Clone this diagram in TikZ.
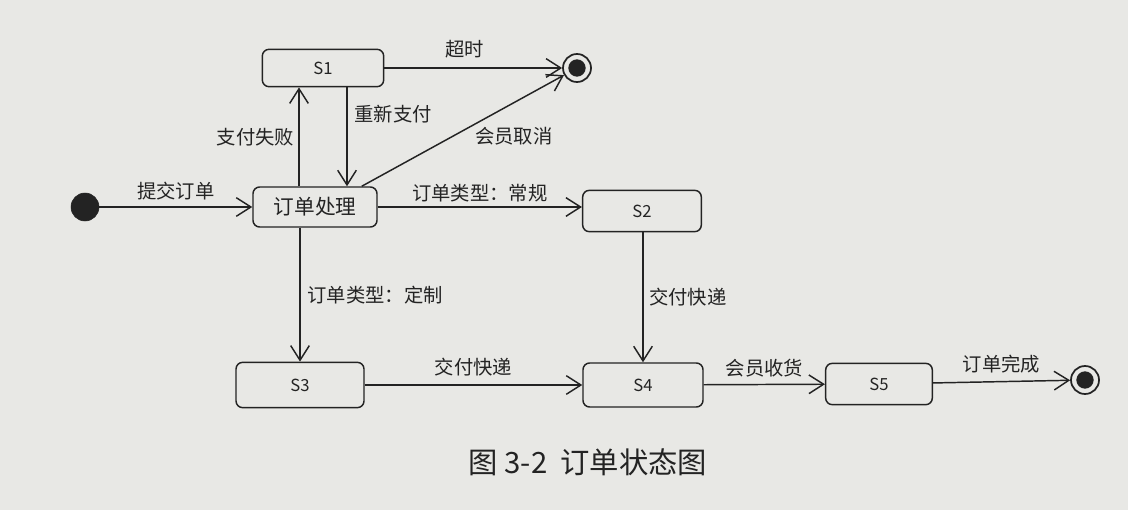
\documentclass[tikz,border=0pt]{standalone}
\usepackage{fontspec}
\setmainfont{Noto Sans CJK SC}
\usetikzlibrary{arrows.meta}

\definecolor{paper}{RGB}{232,232,229}
\definecolor{ink}{RGB}{35,35,35}

\tikzset{
  state/.style={draw=ink, line width=1.1pt, rounded corners=5pt, fill=paper,
    minimum height=28pt, font=\fontsize{12.5}{14}\selectfont, text=ink},
  initst/.style={circle, fill=ink, draw=ink, minimum size=21pt, inner sep=0pt},
  finalst/.style={circle, draw=ink, line width=1.3pt, minimum size=21pt, inner sep=0pt,
    path picture={\fill[ink] (path picture bounding box.center) circle (6.5pt);}},
  trans/.style={draw=ink, line width=1.1pt, -{Straight Barb[length=11pt,width=14pt,line width=1.1pt]}},
  lbl/.style={font=\fontsize{14.5}{16}\selectfont, text=ink, inner sep=1pt}
}

\begin{document}
\begin{tikzpicture}[x=0.75pt,y=0.75pt,yscale=-1,xscale=1]
% page
\fill[paper] (0,0) rectangle (1128,510);
\useasboundingbox (0,0) rectangle (1128,510);

% states
\node[state, minimum width=91pt] (S1) at (323,68) {S1};
\node[state, minimum width=93pt, minimum height=30pt, font=\fontsize{15.5}{17}\selectfont] (proc) at (315,207) {订单处理};
\node[state, minimum width=89pt, minimum height=31pt] (S2) at (642,211) {S2};
\node[state, minimum width=96pt, minimum height=34pt] (S3) at (300,385) {S3};
\node[state, minimum width=90pt, minimum height=33pt] (S4) at (643,385) {S4};
\node[state, minimum width=80pt, minimum height=31pt] (S5) at (879,384) {S5};

% pseudo states
\node[initst] (start) at (85,207) {};
\node[finalst] (end1) at (577,68) {};
\node[finalst] (end2) at (1085,380) {};

% transitions
\draw[trans] (start) -- (proc.west |- start) node[lbl, midway, above=4pt] {提交订单};
\draw[trans] ([xshift=-12pt]proc.north) -- ([xshift=-12pt]proc.north |- S1.south)
  node[lbl, midway, left=2pt] {支付失败};
\draw[trans] ([xshift=24pt]S1.south -| proc.north) -- ([xshift=24pt]proc.north)
  node[lbl, pos=0.27, right=4pt] {重新支付};
\draw[trans] (S1) -- (end1) node[lbl, pos=0.45, above=6pt] {超时};
\draw[trans] (proc.north east) ++(-12pt,0) coordinate (c1) -- (end1) node[lbl, pos=0.55, below right=0pt] {会员取消};
\draw[trans] (proc) -- (S2.west |- proc) node[lbl, midway, above=2pt] {订单类型：常规};
\draw[trans] (S3.north |- proc.south) -- (S3.north) node[lbl, midway, right=4pt] {订单类型：定制};
\draw[trans] (S2.south -| S4) -- (S4.north) node[lbl, midway, right=3pt] {交付快递};
\draw[trans] (S3) -- (S4) node[lbl, midway, above=5pt] {交付快递};
\draw[trans] (S4) -- (S5) node[lbl, midway, above=4pt] {会员收货};
\draw[trans] (S5) -- (end2) node[lbl, midway, above=5pt] {订单完成};

% caption
\node[font=\fontsize{22}{24}\selectfont, text=ink] (cap) at (588,462) {图 3-2\ \ 订单状态图};

\end{tikzpicture}
\end{document}
